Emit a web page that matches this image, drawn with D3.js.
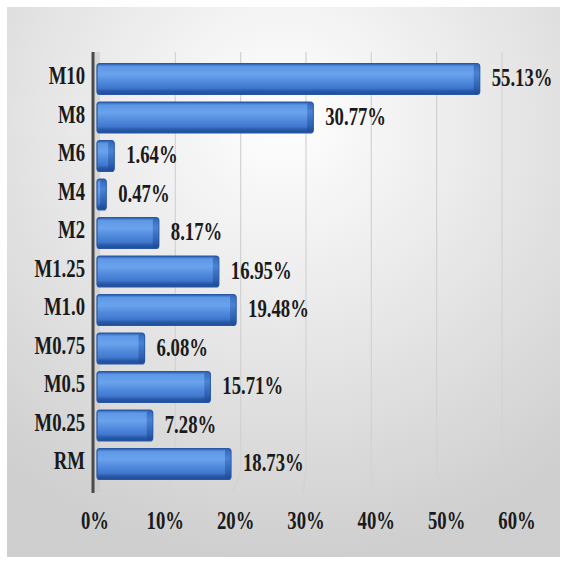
<!DOCTYPE html>
<html><head><meta charset="utf-8">
<script src="https://cdn.jsdelivr.net/npm/d3@7"></script>
<style>html,body{margin:0;padding:0;background:#fff;}svg{display:block;}</style>
</head><body>
<script>
const categories = ["M10","M8","M6","M4","M2","M1.25","M1.0","M0.75","M0.5","M0.25","RM"];
const values = [55.13,30.77,1.64,0.47,8.17,16.95,19.48,6.08,15.71,7.28,18.73];
const tickValues = [0,10,20,30,40,50,60];
const tickLabels = ["0%","10%","20%","30%","40%","50%","60%"];

const W = 564, H = 561;
const svg = d3.select("body").append("svg").attr("width", W).attr("height", H);
const defs = svg.append("defs");

const bg = defs.append("radialGradient").attr("id","bg").attr("cx","0.5").attr("cy","0.2").attr("r","0.8");
bg.append("stop").attr("offset","0").attr("stop-color","#ffffff");
bg.append("stop").attr("offset","0.4").attr("stop-color","#ececec");
bg.append("stop").attr("offset","1").attr("stop-color","#cfcfcf");

const bar = defs.append("linearGradient").attr("id","bar").attr("x1",0).attr("y1",0).attr("x2",0).attr("y2",1);
[[0,"#2f64b8"],[0.1,"#5e98e6"],[0.35,"#6aa2ec"],[0.6,"#4f89dc"],[0.8,"#3f77cc"],[0.88,"#2a5cae"],[1,"#1d4a94"]]
  .forEach(([o,c])=>bar.append("stop").attr("offset",o).attr("stop-color",c));
const cap = defs.append("linearGradient").attr("id","cap").attr("x1",0).attr("y1",0).attr("x2",0).attr("y2",1);
[[0,"#2a5cae"],[0.3,"#3f77cc"],[1,"#1d4a94"]].forEach(([o,c])=>cap.append("stop").attr("offset",o).attr("stop-color",c));

svg.append("rect").attr("x",0).attr("y",0).attr("width",W).attr("height",H).attr("fill","#ffffff");
svg.append("rect").attr("x",7).attr("y",7).attr("width",553).attr("height",550).attr("fill","url(#bg)");

// scales: bar plane, back wall, front floor edge
const x = d3.scaleLinear().domain([0,60]).range([96, 506]);
const xBack = d3.scaleLinear().domain([0,60]).range([110, 502]);
const xFront = d3.scaleLinear().domain([0,60]).range([95, 517]);
const depth = 7;
const y = d3.scaleBand().domain(categories).range([59.75, 483.25]).paddingInner(0.2).paddingOuter(0.1);

// back-wall gridlines with floor diagonal
const gTop = 52, gBack = 472, gFront = 492;
svg.append("g").selectAll("path").data(tickValues.slice(1)).join("path")
  .attr("d", d => `M${xBack(d)},${gTop}V${gBack}L${xFront(d)-3},${gFront}`)
  .attr("fill","none").attr("stroke","#d2d2d2").attr("stroke-width",1.2);

// side wall strip
svg.append("rect").attr("x",94).attr("y",gTop).attr("width",6).attr("height",gFront-gTop).attr("fill","#c9c9c9").attr("opacity",0.6);

// bars
const bars = svg.append("g");
categories.forEach((c,i) => {
  const v = values[i];
  const y0 = y(c), bh = y.bandwidth();
  const x0 = x(0)+1, x1 = x(v) + depth;
  const w = x1 - x0;
  bars.append("rect").attr("x",x0).attr("y",y0).attr("width",w).attr("height",bh)
    .attr("rx",3).attr("fill","url(#bar)").attr("stroke","#2857a6").attr("stroke-width",1.2);
  // right end face
  bars.append("rect").attr("x",x1-depth+1).attr("y",y0+1).attr("width",depth-1).attr("height",bh-2)
    .attr("rx",2).attr("fill","url(#cap)").attr("opacity",0.75);
});

// vertical axis line
svg.append("line").attr("x1",93).attr("x2",93).attr("y1",gTop).attr("y2",gFront+1)
  .attr("stroke","#4a4a4a").attr("stroke-width",3);

const font = "'Liberation Serif','Times New Roman',serif";
const sx = 0.72;
function txt(g, t, tx, ty, anchor){
  g.append("text").attr("transform",`translate(${tx},${ty}) scale(${sx},1)`)
    .attr("text-anchor",anchor).attr("font-family",font).attr("font-weight","bold")
    .attr("font-size",26).attr("fill","#1a1a1a").text(t);
}

// category labels
const cl = svg.append("g");
categories.forEach(c => txt(cl, c, 85, y(c)+y.bandwidth()/2+5, "end"));

// value labels
const vl = svg.append("g");
categories.forEach((c,i) => txt(vl, values[i].toFixed(2)+"%", x(values[i])+depth+12, y(c)+y.bandwidth()/2+7, "start"));

// x tick labels
const xl = svg.append("g");
tickValues.forEach((t,i) => txt(xl, tickLabels[i], xFront(t), 529, "middle"));
</script>
</body></html>
